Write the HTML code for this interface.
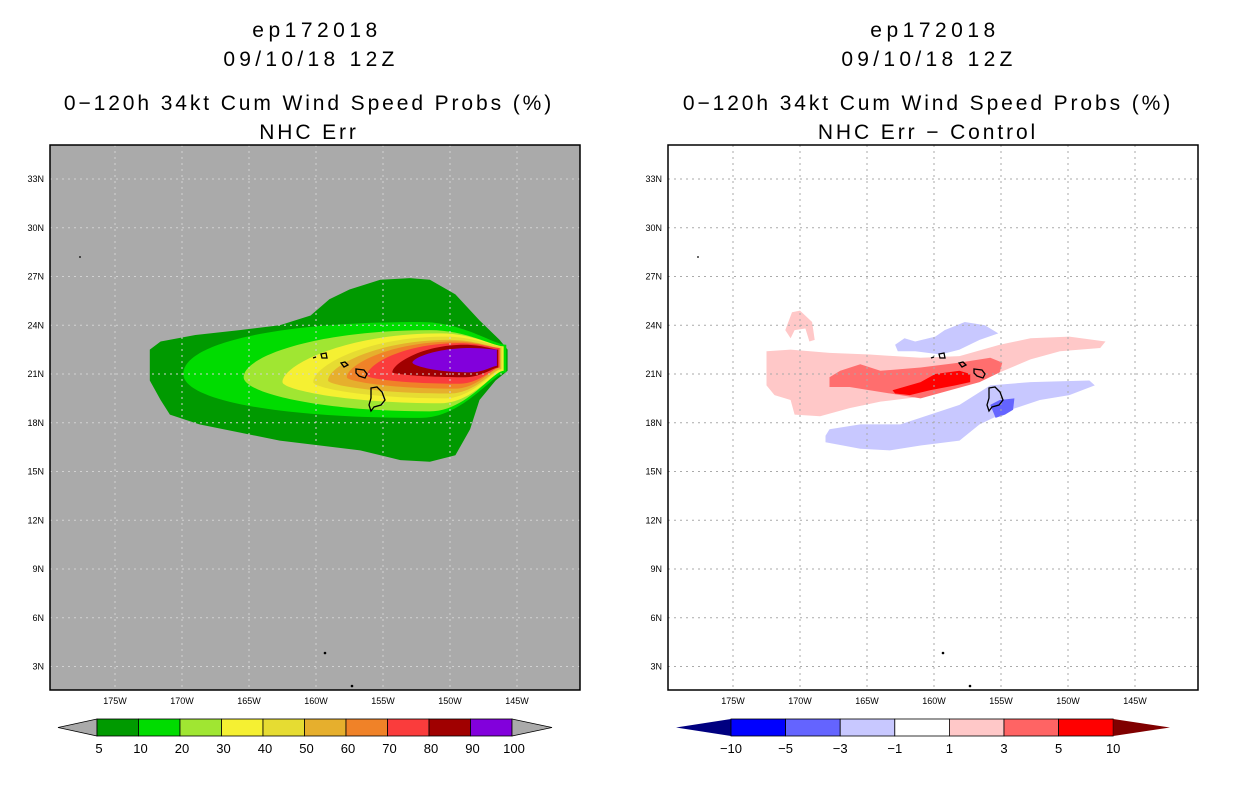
<!DOCTYPE html>
<html><head><meta charset="utf-8"><style>
html,body{margin:0;padding:0;background:#fff;width:1236px;height:800px;overflow:hidden}
text{font-family:"Liberation Sans",sans-serif}
</style></head><body>
<svg id="c" width="1236" height="800" xmlns="http://www.w3.org/2000/svg">
<g font-size="21" text-anchor="middle" fill="#000">
<text x="317" y="37" letter-spacing="4.5">ep172018</text>
<text x="311" y="66" letter-spacing="4.3">09/10/18 12Z</text>
<text x="309" y="110" letter-spacing="2.9">0−120h 34kt Cum Wind Speed Probs (%)</text>
<text x="309" y="139" letter-spacing="2.9">NHC Err</text>
</g>
<g font-size="21" text-anchor="middle" fill="#000">
<text x="935" y="37" letter-spacing="4.5">ep172018</text>
<text x="929" y="66" letter-spacing="4.3">09/10/18 12Z</text>
<text x="928" y="110" letter-spacing="2.9">0−120h 34kt Cum Wind Speed Probs (%)</text>
<text x="928" y="139" letter-spacing="2.9">NHC Err − Control</text>
</g>
<g id="L"></g>
<g id="R"></g>
<g id="LB"></g>
<g id="RB"></g>
</svg>
<script>
const NS="http://www.w3.org/2000/svg";
const latTicks=[33,30,27,24,21,18,15,12,9,6,3];
const lonTicks=[-175,-170,-165,-160,-155,-150,-145];
// outermost 5% contour (lon,lat)
const prob5Outline=[[-172.4,22.5],[-171.6,23.0],[-169.0,23.4],[-165.7,23.7],[-162.7,24.0],[-160.4,24.6],[-159.0,25.6],[-157.5,26.2],[-155.2,26.8],[-153.0,26.9],[-151.5,26.8],[-149.6,25.9],[-147.8,24.3],[-146.3,23.1],[-145.7,22.5],[-145.7,21.2],[-146.6,20.6],[-147.8,19.4],[-148.5,17.6],[-149.6,16.0],[-151.5,15.6],[-153.7,15.7],[-156.7,16.3],[-159.7,16.6],[-162.7,16.9],[-165.7,17.4],[-168.7,17.9],[-170.9,18.5],[-171.6,19.4],[-172.4,20.6]];
// inner probability contour bands
const probLevels=[5,10,20,30,40,50,60,70,80,90];
const probColors=["#009a00","#00dc00","#a0e632","#f5f032","#e6dc32","#e6af2d","#f08228","#fa3c3c","#a00000","#8200dc"];
const bandWest=[null,-169.9,-165.4,-162.5,-160.2,-159.1,-157.7,-156.2,-154.3,-152.8];
const bandWestLat=[null,21.0,20.8,20.5,20.5,20.6,20.8,20.9,21.1,21.7];
const bandNorth=[null,24.2,23.7,23.5,23.3,23.1,23.0,22.9,22.8,22.6];
const bandSouth=[null,18.3,18.7,19.2,19.5,19.8,20.1,20.4,20.8,21.1];
const bandPeak=[null,-152.2,-151.5,-150.7,-150.4,-150.0,-149.6,-149.3,-148.9,-148.5];
const bandEast=[null,-145.8,-146.0,-146.0,-146.1,-146.2,-146.3,-146.3,-146.4,-146.5];
const bandEastTop=[null,22.8,22.7,22.7,22.7,22.6,22.6,22.6,22.5,22.5];
const bandEastBot=[null,21.1,21.2,21.2,21.3,21.3,21.4,21.4,21.4,21.5];
const bandBlunt=[null,0.6,0.45,0.35,0.35,0.35,0.35,0.35,0.3,0.3];
// difference regions (lon,lat pairs)
const diffPink=[[-172.5,22.4],[-170.7,22.5],[-167.8,22.3],[-164.8,22.2],[-161.0,22.0],[-158.1,22.1],[-155.1,22.8],[-152.8,23.2],[-149.9,23.3],[-147.2,23.0],[-147.6,22.6],[-150.6,22.4],[-152.8,21.9],[-155.1,21.1],[-156.6,20.6],[-158.8,20.1],[-161.0,19.6],[-164.0,19.3],[-166.3,18.9],[-168.5,18.4],[-170.4,18.5],[-170.7,19.4],[-171.9,19.7],[-172.5,20.3]];
const diffPinkNorth=[[-171.1,23.7],[-170.6,24.8],[-170.0,24.9],[-169.1,24.2],[-168.9,23.1],[-169.3,23.0],[-169.6,23.8],[-170.4,23.7],[-170.7,23.2]];
const diffBlueSouth=[[-168.1,17.2],[-167.8,17.6],[-165.5,17.9],[-162.5,17.9],[-160.3,18.5],[-158.1,19.1],[-155.8,20.3],[-152.8,20.5],[-148.4,20.6],[-148.0,20.3],[-149.9,19.7],[-152.1,19.4],[-154.3,18.8],[-156.6,17.9],[-158.1,16.9],[-161.0,16.6],[-163.3,16.3],[-165.5,16.4],[-168.1,16.8]];
const diffBlueNorth=[[-162.9,22.8],[-162.2,23.2],[-161.4,23.0],[-159.9,23.3],[-159.2,23.7],[-157.7,24.2],[-156.2,24.0],[-155.2,23.5],[-156.6,23.1],[-158.1,22.5],[-159.5,22.2],[-161.4,22.4],[-162.7,22.4]];
const diffBlueMid=[[-155.8,19.1],[-155.1,19.4],[-154.0,19.5],[-154.1,18.8],[-154.7,18.5],[-155.4,18.3]];
const diffSalmon=[[-167.8,20.8],[-167.0,21.2],[-165.5,21.6],[-164.0,21.2],[-161.0,21.4],[-158.1,21.7],[-155.8,22.0],[-154.9,21.7],[-155.1,21.1],[-156.6,20.5],[-158.8,20.0],[-161.0,19.5],[-162.5,19.7],[-164.8,20.0],[-166.3,20.2],[-167.8,20.2]];
const diffRed=[[-163.1,20.0],[-161.0,20.5],[-159.9,21.0],[-158.1,21.2],[-157.3,21.0],[-157.3,20.5],[-158.4,20.3],[-160.3,20.0],[-161.8,19.7],[-162.9,19.8]];
const diffLevels=["−10","−5","−3","−1","1","3","5","10"];
const diffColors=["#0000ff","#6464ff","#c8c8ff","#ffffff","#ffc8c8","#ff6464","#ff0000"];

function mk(parent,tag,attrs){const e=document.createElementNS(NS,tag);for(const k in attrs)e.setAttribute(k,attrs[k]);parent.appendChild(e);return e;}
function axes(x0){return{x:lon=>x0+115+(lon+175)*13.4, y:lat=>374-(lat-21)*16.25};}
function poly(g,ax,pts,fill){const d=pts.map((p,i)=>(i?"L":"M")+ax.x(p[0]).toFixed(1)+","+ax.y(p[1]).toFixed(1)).join("")+"Z";return mk(g,"path",{d:d,fill:fill});}

function panel(gid,x0,bg){
  const g=document.getElementById(gid), ax=axes(x0);
  mk(g,"rect",{x:x0+50,y:145,width:530,height:545,fill:bg});
  const body=mk(g,"g",{});
  return {g,ax,body};
}
function finish(p,x0,grid){
  const {g,ax}=p;
  latTicks.forEach(t=>{
    const l=mk(g,"line",{x1:x0+50,x2:x0+580,y1:ax.y(t),y2:ax.y(t),stroke:grid,"stroke-dasharray":"2,4","stroke-width":1});
    
    
    const tx=mk(g,"text",{x:x0+44,y:ax.y(t)+3,"font-size":9,"text-anchor":"end"});tx.textContent=t+"N";
    
    
  });
  lonTicks.forEach(t=>{
    const l=mk(g,"line",{x1:ax.x(t),x2:ax.x(t),y1:145,y2:690,stroke:grid,"stroke-dasharray":"2,4","stroke-width":1});
    
    
    const tx=mk(g,"text",{x:ax.x(t),y:704,"font-size":9,"text-anchor":"middle"});tx.textContent=(-t)+"W";
    
    
  });
  const isl=mk(g,"g",{fill:"none",stroke:"#000","stroke-width":1.3});
  
  
  mk(isl,"path",{d:`M${x0+371},${388}l6,-1l5,5l3,8l-4,5l-7,2l-3,4l-2,-6l2,-7z`});
  mk(isl,"path",{d:`M${x0+356},${369}l8,1l3,4l-2,4l-6,-2l-3,-3z`});
  mk(isl,"path",{d:`M${x0+341},${363}l4,-1l3,3l-4,2z`});
  mk(isl,"path",{d:`M${x0+321},${354}l5,-1l1,5l-5,0z`});
  mk(isl,"path",{d:`M${x0+313},${358}l3,-1`});
  mk(g,"circle",{cx:x0+80,cy:257,r:0.9,fill:"#000"});
  mk(g,"circle",{cx:x0+325,cy:653,r:1.3,fill:"#000"});
  mk(g,"circle",{cx:x0+352,cy:686,r:1.3,fill:"#000"});
  mk(g,"rect",{x:x0+50,y:145,width:530,height:545,fill:"none",stroke:"#000","stroke-width":1.5});
}

// LEFT
const Lp=panel("L",0,"#aaaaaa");
const p5=poly(Lp.body,Lp.ax,prob5Outline,probColors[0]);


probLevels.forEach((lv,i)=>{
  if(i===0) return;
  const ax=Lp.ax;
  const W=[ax.x(bandWest[i]),ax.y(bandWestLat[i])],P=ax.x(bandPeak[i]),N=ax.y(bandNorth[i]),S=ax.y(bandSouth[i]);
  const E=ax.x(bandEast[i]),ET=ax.y(bandEastTop[i]),EB=ax.y(bandEastBot[i]),k=bandBlunt[i];
  const d=`M${W[0]},${W[1]}C${W[0]},${W[1]+(N-W[1])*k} ${W[0]+(P-W[0])*0.4},${N} ${P},${N}C${P+(E-P)*0.5},${N} ${E-(E-P)*0.15},${ET} ${E},${ET}L${E},${EB}C${E-(E-P)*0.15},${EB} ${P+(E-P)*0.5},${S} ${P},${S}C${W[0]+(P-W[0])*0.4},${S} ${W[0]},${W[1]+(S-W[1])*k} ${W[0]},${W[1]}Z`;
  const p=mk(Lp.body,"path",{d:d,fill:probColors[i]});
  
  
});
finish(Lp,0,"#d2d2d2");

// RIGHT
const Rp=panel("R",618,"#ffffff");
[[diffPink,"#ffc8c8","diff-1-to-3"],[diffPinkNorth,"#ffc8c8","diff-1-to-3-north"],[diffBlueSouth,"#c8c8ff","diff-minus1-to-minus3"],[diffBlueNorth,"#c8c8ff","diff-minus1-to-minus3-north"],[diffBlueMid,"#6464ff","diff-minus3-to-minus5"],[diffSalmon,"#ff6e6e","diff-3-to-5"],[diffRed,"#ff0000","diff-5-to-10"]].forEach(r=>{
  const p=poly(Rp.body,Rp.ax,r[0],r[1]);
  
  
});
finish(Rp,618,"#aaaaaa");

// LEFT COLORBAR
(function(){
  const g=document.getElementById("LB");const x0=97,w=41.5,y=719,h=17;
  const t1=mk(g,"path",{d:`M${x0},${y}L58,${y+h/2}L${x0},${y+h}Z`,fill:"#aaaaaa",stroke:"#000","stroke-width":0.8});
  
  
  probColors.forEach((c,i)=>{
    const r=mk(g,"rect",{x:x0+i*w,y:y,width:w,height:h,fill:c,stroke:"#000","stroke-width":0.8});
    
    
  });
  const t2=mk(g,"path",{d:`M${x0+10*w},${y}L552,${y+h/2}L${x0+10*w},${y+h}Z`,fill:"#aaaaaa",stroke:"#000","stroke-width":0.8});
  
  
  probLevels.concat([100]).forEach((lv,i)=>{
    const t=mk(g,"text",{x:x0+i*w+2,y:753,"font-size":13,"text-anchor":"middle"});t.textContent=lv;
    
    
  });
})();
// RIGHT COLORBAR
(function(){
  const g=document.getElementById("RB");const x0=731,w=54.6,y=719,h=17;
  const t1=mk(g,"path",{d:`M${x0},${y}L676,${y+h/2}L${x0},${y+h}Z`,fill:"#000080"});
  
  
  diffColors.forEach((c,i)=>{
    const r=mk(g,"rect",{x:x0+i*w,y:y,width:w,height:h,fill:c,stroke:"#000","stroke-width":0.8});
    
    
  });
  const t2=mk(g,"path",{d:`M${x0+7*w},${y}L1170,${y+h/2}L${x0+7*w},${y+h}Z`,fill:"#800000"});
  
  
  diffLevels.forEach((lv,i)=>{
    const t=mk(g,"text",{x:x0+i*w,y:753,"font-size":13,"text-anchor":"middle"});t.textContent=lv;
    
    
  });
})();
</script>
</body></html>
